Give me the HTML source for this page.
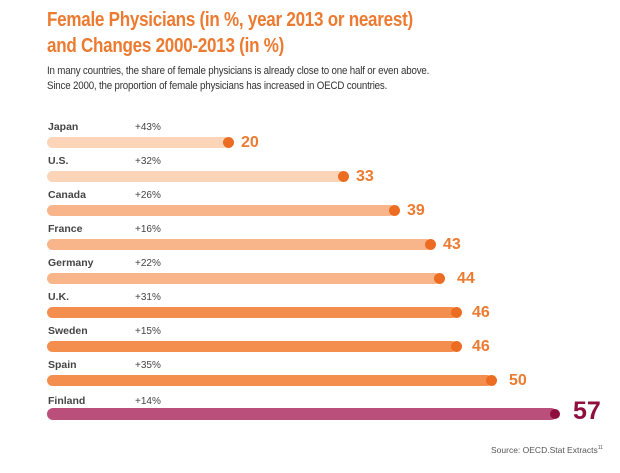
<!DOCTYPE html>
<html><head><meta charset="utf-8"><style>
body{margin:0;width:620px;height:473px;background:#fff;position:relative;overflow:hidden;font-family:"Liberation Sans",sans-serif}
.t{position:absolute;left:47px;color:#ec7b31;font-weight:bold;font-size:20.5px;letter-spacing:-0.3px;transform:scaleX(0.83);transform-origin:0 0;white-space:nowrap}
.s{position:absolute;left:47px;color:#333;font-size:10.6px;letter-spacing:-0.2px;transform:scaleX(0.92);transform-origin:0 0;white-space:nowrap}
.lab{position:absolute;left:48px;font-size:10.5px;color:#444;font-weight:bold}
.pct{position:absolute;left:135px;font-size:10px;color:#444}
.bar{position:absolute;left:47px;height:11px;border-radius:6px}
.dot{position:absolute;width:11px;height:11px;border-radius:50%;background:#ec6d22}
.val{position:absolute;font-size:16px;font-weight:bold;color:#ec7b31}
</style></head><body>
<div class="t" style="top:8px">Female Physicians (in %, year 2013 or nearest)</div>
<div class="t" style="top:34px">and Changes 2000-2013 (in %)</div>
<div class="s" style="top:65px">In many countries, the share of female physicians is already close to one half or even above.</div>
<div class="s" style="top:80px">Since 2000, the proportion of female physicians has increased in OECD countries.</div>

<div class="lab" style="top:121px">Japan</div><div class="pct" style="top:122px">+43%</div>
<div class="bar" style="top:137px;width:182px;background:#fcd5b8"></div><div class="dot" style="left:223px;top:137px"></div><div class="val" style="left:241px;top:134px">20</div>

<div class="lab" style="top:155px">U.S.</div><div class="pct" style="top:156px">+32%</div>
<div class="bar" style="top:171px;width:297px;background:#fcd5b8"></div><div class="dot" style="left:338px;top:171px"></div><div class="val" style="left:356px;top:168px">33</div>

<div class="lab" style="top:189px">Canada</div><div class="pct" style="top:190px">+26%</div>
<div class="bar" style="top:205px;width:348px;background:#f8b58a"></div><div class="dot" style="left:389px;top:205px"></div><div class="val" style="left:407px;top:202px">39</div>

<div class="lab" style="top:223px">France</div><div class="pct" style="top:224px">+16%</div>
<div class="bar" style="top:239px;width:384px;background:#f8b58a"></div><div class="dot" style="left:425px;top:239px"></div><div class="val" style="left:443px;top:236px">43</div>

<div class="lab" style="top:257px">Germany</div><div class="pct" style="top:258px">+22%</div>
<div class="bar" style="top:273px;width:393px;background:#f8b58a"></div><div class="dot" style="left:434px;top:273px"></div><div class="val" style="left:457px;top:270px">44</div>

<div class="lab" style="top:291px">U.K.</div><div class="pct" style="top:292px">+31%</div>
<div class="bar" style="top:307px;width:410px;background:#f48e4e"></div><div class="dot" style="left:451px;top:307px"></div><div class="val" style="left:472px;top:304px">46</div>

<div class="lab" style="top:325px">Sweden</div><div class="pct" style="top:326px">+15%</div>
<div class="bar" style="top:341px;width:410px;background:#f48e4e"></div><div class="dot" style="left:451px;top:341px"></div><div class="val" style="left:472px;top:338px">46</div>

<div class="lab" style="top:359px">Spain</div><div class="pct" style="top:360px">+35%</div>
<div class="bar" style="top:375px;width:445px;background:#f48e4e"></div><div class="dot" style="left:486px;top:375px"></div><div class="val" style="left:509px;top:372px">50</div>

<div class="lab" style="top:395px">Finland</div><div class="pct" style="top:396px">+14%</div>
<div class="bar" style="top:408px;width:510px;height:12px;background:#bb4f7c"></div><div class="dot" style="left:550px;top:409px;width:10px;height:10px;background:#8e0e40"></div>
<div class="val" style="left:573px;top:397px;font-size:25px;color:#8e0e40">57</div>

<div style="position:absolute;left:491px;top:445px;font-size:8.5px;color:#555">Source: OECD.Stat Extracts<sup style="font-size:5px">11</sup></div>
</body></html>
